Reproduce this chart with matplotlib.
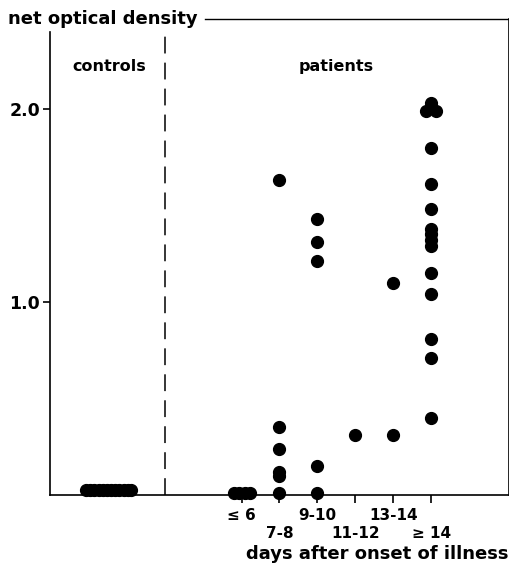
import matplotlib
matplotlib.use('Agg')
import matplotlib.pyplot as plt

plt.rcParams['font.family'] = ['DejaVu Sans']
plt.rcParams['font.weight'] = 'bold'

# day groups (x index 0..5) and tick labels
day_labels = ['≤ 6', '7-8', '9-10', '11-12', '13-14', '≥ 14']

# controls: all near zero, spread along x
controls_x = [-4.10, -3.99, -3.88, -3.77, -3.66, -3.55, -3.44, -3.33, -3.22, -3.11, -3.00, -2.92]
controls_y = [0.025] * len(controls_x)

# patients, per day group (x, y)
le6_x = [-0.21, -0.07, 0.08, 0.23]
le6_y = [0.01, 0.01, 0.01, 0.01]

d78_y = [1.63, 0.35, 0.24, 0.12, 0.10, 0.01]
d910_y = [1.43, 1.31, 1.21, 0.15, 0.01]
d1112_y = [0.31]
d1314_y = [1.10, 0.31]
ge14_y = [2.03, 1.99, 1.99, 1.80, 1.61, 1.48, 1.38, 1.35, 1.32, 1.29, 1.15, 1.04, 0.81, 0.71, 0.40]
ge14_dx = [0.0, -0.13, 0.13, 0, 0, 0, 0, 0, 0, 0, 0, 0, 0, 0, 0]

fig = plt.figure(figsize=(5.10, 5.63), dpi=100)
ax = fig.add_axes([0.098, 0.121, 0.900, 0.845])
ax.set_xlim(-5.05, 7.05)
ax.set_ylim(0, 2.466)

mk = dict(marker='o', ms=8.5, color='black', ls='none', clip_on=False, zorder=3)
ax.plot(controls_x, controls_y, **mk)
ax.plot(le6_x, le6_y, **mk)
ax.plot([1] * len(d78_y), d78_y, **mk)
ax.plot([2] * len(d910_y), d910_y, **mk)
ax.plot([3] * len(d1112_y), d1112_y, **mk)
ax.plot([4] * len(d1314_y), d1314_y, **mk)
ax.plot([5 + d for d in ge14_dx], ge14_y, **mk)

# divider between controls and patients
ax.plot([-2.03, -2.03], [0, 2.40], color='black', lw=1.1, ls=(0, (11, 6)))

# spines
for s in ['left', 'bottom', 'right']:
    ax.spines[s].set_linewidth(1.2)
ax.spines['left'].set_bounds(0, 2.40)
ax.spines['top'].set_visible(False)
ax.plot([0.337, 1.0], [1, 1], transform=ax.transAxes, color='black', lw=1.0, clip_on=False)

ax.set_yticks([1.0, 2.0])
ax.set_yticklabels(['1.0', '2.0'], fontweight='bold')
ax.tick_params(axis='y', direction='out', length=5, width=1.2, labelsize=12.5, pad=2)

ax.set_xticks(range(6))
ax.set_xticklabels([])
ax.tick_params(axis='x', direction='out', length=6, width=1.2)
for i, lab in enumerate(day_labels):
    yoff = -0.105 if i % 2 == 0 else -0.20
    ax.text(i, yoff, lab, ha='center', va='center', fontsize=11)

ax.text(1.0, -0.305, 'days after onset of illness', transform=ax.get_yaxis_transform(),
        ha='right', va='center', fontsize=13)
ax.text(-0.092, 1.0, 'net optical density', transform=ax.transAxes,
        ha='left', va='center', fontsize=13)
ax.text(-3.5, 2.22, 'controls', ha='center', va='center', fontsize=11.5)
ax.text(2.5, 2.22, 'patients', ha='center', va='center', fontsize=11.5)

plt.savefig('out.png', dpi=100)
plt.close()
